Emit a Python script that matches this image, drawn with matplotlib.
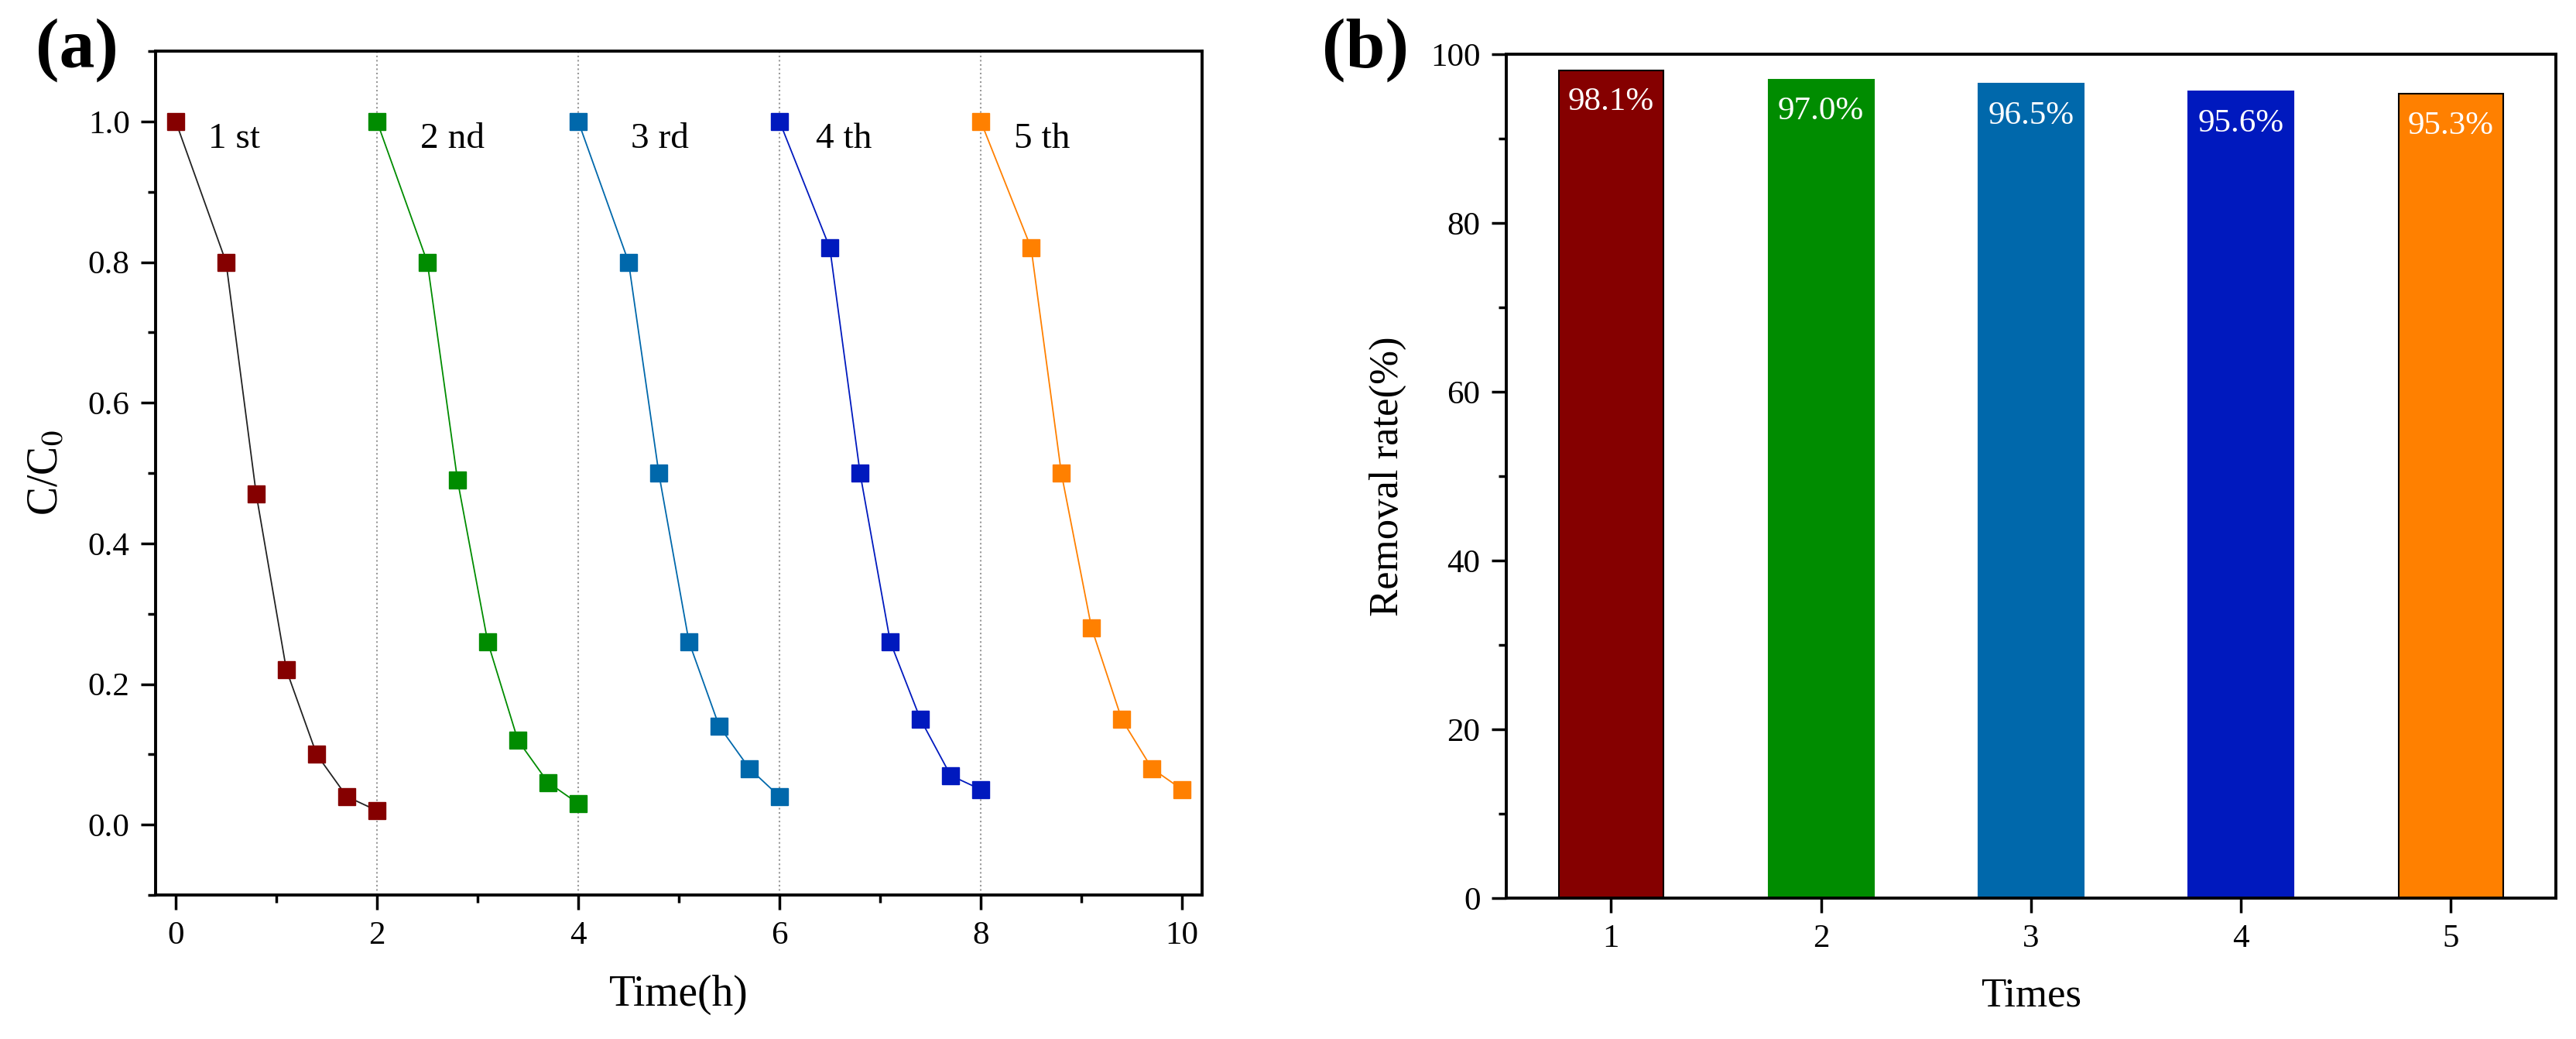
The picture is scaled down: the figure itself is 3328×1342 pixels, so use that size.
import matplotlib
matplotlib.use("Agg")
import matplotlib.pyplot as plt
from matplotlib.ticker import MultipleLocator

plt.rcParams['font.family'] = ['Liberation Serif', 'DejaVu Serif']
plt.rcParams['mathtext.fontset'] = 'stix'

# cycle data, panel (a)
t1 = [0, 0.5, 0.8, 1.1, 1.4, 1.7, 2.0]
t2 = [2.0, 2.5, 2.8, 3.1, 3.4, 3.7, 4.0]
t3 = [4.0, 4.5, 4.8, 5.1, 5.4, 5.7, 6.0]
t4 = [6.0, 6.5, 6.8, 7.1, 7.4, 7.7, 8.0]
t5 = [8.0, 8.5, 8.8, 9.1, 9.4, 9.7, 10.0]
c1 = [1.0, 0.80, 0.47, 0.22, 0.10, 0.04, 0.02]
c2 = [1.0, 0.80, 0.49, 0.26, 0.12, 0.06, 0.03]
c3 = [1.0, 0.80, 0.50, 0.26, 0.14, 0.08, 0.04]
c4 = [1.0, 0.82, 0.50, 0.26, 0.15, 0.07, 0.05]
c5 = [1.0, 0.82, 0.50, 0.28, 0.15, 0.08, 0.05]
cycle_labels = ['1 st', '2 nd', '3 rd', '4 th', '5 th']
label_x = [0.32, 2.43, 4.52, 6.36, 8.33]

# removal rates, panel (b)
times = [1, 2, 3, 4, 5]
removal = [98.1, 97.0, 96.5, 95.6, 95.3]

colors = ['#850000', '#008c00', '#0068ab', '#0019be', '#ff8000']
line_colors = ['#222222', '#008c00', '#0068ab', '#0019be', '#ff8000']

fig = plt.figure(figsize=(33.28, 13.42), dpi=100)
ax1 = fig.add_axes([0.0604, 0.1386, 0.4063, 0.8122])
ax2 = fig.add_axes([0.5847, 0.1356, 0.4075, 0.8122])

# ---- panel (a)
for xv in [2, 4, 6, 8]:
    ax1.axvline(xv, color='#999999', ls=':', lw=1.5, zorder=0)

series = [(t1, c1), (t2, c2), (t3, c3), (t4, c4), (t5, c5)]
for i, (t, c) in enumerate(series):
    ax1.plot(t, c, '-', color=line_colors[i], lw=1.3, zorder=2)
    ax1.plot(t, c, 's', color=colors[i], ms=16.5, mec=colors[i], zorder=3)
    ax1.text(label_x[i], 0.975, cycle_labels[i], fontsize=34, va='center', ha='left')

ax1.set_xlim(-0.2, 10.2)
ax1.set_ylim(-0.1, 1.1)
ax1.xaxis.set_major_locator(MultipleLocator(2))
ax1.xaxis.set_minor_locator(MultipleLocator(1))
ax1.yaxis.set_major_locator(MultipleLocator(0.2))
ax1.yaxis.set_minor_locator(MultipleLocator(0.1))
ax1.set_yticks([0.0, 0.2, 0.4, 0.6, 0.8, 1.0])
ax1.set_yticklabels(['0.0', '0.2', '0.4', '0.6', '0.8', '1.0'])
ax1.set_xlabel('Time(h)', fontsize=40, labelpad=22)
ax1.set_ylabel('C/C$_0$', fontsize=40, labelpad=20)

# ---- panel (b)
edge = ['black', colors[1], colors[2], colors[3], 'black']
ax2.bar(times, removal, width=0.5, color=colors, edgecolor=edge, linewidth=1.5)
for x, v in zip(times, removal):
    ax2.text(x, v - 3.8, f'{v:.1f}%', color='white', fontsize=31,
             ha='center', va='center')

ax2.set_xlim(0.5, 5.5)
ax2.set_ylim(0, 100)
ax2.set_xticks(times)
ax2.yaxis.set_major_locator(MultipleLocator(20))
ax2.yaxis.set_minor_locator(MultipleLocator(10))
ax2.set_xlabel('Times', fontsize=38, labelpad=22)
ax2.set_ylabel('Removal rate(%)', fontsize=38, labelpad=22)

for ax in (ax1, ax2):
    for s in ax.spines.values():
        s.set_linewidth(2.8)
    ax.tick_params(which='major', direction='out', length=14, width=2.5,
                   labelsize=31, pad=10, top=False, right=False)
    ax.tick_params(which='minor', direction='out', length=7, width=2.5,
                   top=False, right=False)
ax2.tick_params(axis='x', which='minor', bottom=False)

fig.text(0.030, 0.952, '(a)', fontsize=66, fontweight='bold', ha='center', va='center')
fig.text(0.530, 0.952, '(b)', fontsize=66, fontweight='bold', ha='center', va='center')

fig.savefig('out.png', dpi=100)
